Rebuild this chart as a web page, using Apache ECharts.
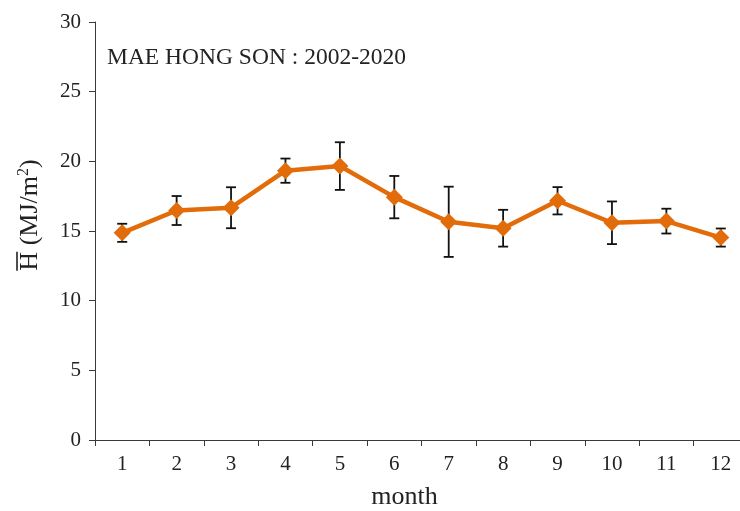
<!DOCTYPE html>
<html>
<head>
<meta charset="utf-8">
<script src="https://cdn.jsdelivr.net/npm/echarts@6/dist/echarts.min.js"></script>
<style>
  html, body { margin: 0; padding: 0; background: #fff; }
  #chart { width: 740px; height: 511px; }
</style>
</head>
<body>
<div id="chart"></div>
<script>
// Monthly mean daily global irradiation, Mae Hong Son (2002-2020)
const months = ['1', '2', '3', '4', '5', '6', '7', '8', '9', '10', '11', '12'];
const meanH = [14.87, 16.47, 16.67, 19.33, 19.66, 17.43, 15.66, 15.20, 17.17, 15.59, 15.71, 14.53];
const stdH = [0.65, 1.04, 1.47, 0.87, 1.71, 1.52, 2.52, 1.32, 0.98, 1.53, 0.89, 0.65];
const yTicks = [0, 5, 10, 15, 20, 25, 30];

const FONT_NAME = '"Liberation Serif", "Times New Roman", serif';
const TEXT_COLOR = '#222';
const AXIS_COLOR = '#3a3a3a';
const LINE_COLOR = '#E36C0A';

const errData = months.map((m, i) => [i, meanH[i] - stdH[i], meanH[i] + stdH[i]]);

// Text measurement for placing the overline above "H" in the axis title
const ctx = document.createElement('canvas').getContext('2d');
function measure(str, size) {
  ctx.font = size + 'px ' + FONT_NAME;
  return ctx.measureText(str).width;
}
const NAME_SIZE = 26;
const SUP_SIZE = 16;
const nameWidth = measure('H (MJ/m', NAME_SIZE) + measure('2', SUP_SIZE) + measure(')', NAME_SIZE);
const hWidth = measure('H', NAME_SIZE);

const chart = echarts.init(document.getElementById('chart'));
chart.setOption({
  animation: false,
  backgroundColor: '#fff',
  grid: { left: 95, top: 22, width: 653, bottom: 71, containLabel: false, outerBoundsMode: 'none' },
  title: {
    text: 'MAE HONG SON : 2002-2020',
    left: 107, top: 46, padding: 0,
    textStyle: { fontFamily: FONT_NAME, fontSize: 23.5, fontWeight: 'normal', color: TEXT_COLOR }
  },
  graphic: [{
    type: 'group',
    x: 30, y: 215,
    rotation: Math.PI / 2,
    children: [
      {
        type: 'text',
        x: 0, y: 0,
        style: {
          text: '{h|H} (MJ/m{sup|2})',
          align: 'center',
          verticalAlign: 'middle',
          font: NAME_SIZE + 'px ' + FONT_NAME,
          fill: TEXT_COLOR,
          rich: {
            h: { fontFamily: FONT_NAME, fontSize: NAME_SIZE, color: TEXT_COLOR },
            sup: { fontFamily: FONT_NAME, fontSize: SUP_SIZE, color: TEXT_COLOR, verticalAlign: 'top', padding: [0, 0, 12, 0] }
          }
        }
      },
      {
        type: 'line',
        shape: { x1: -nameWidth / 2, y1: -13, x2: -nameWidth / 2 + hWidth, y2: -13 },
        style: { stroke: TEXT_COLOR, lineWidth: 1.6 }
      }
    ]
  }],
  xAxis: {
    type: 'category',
    data: months,
    boundaryGap: true,
    name: 'month',
    nameLocation: 'middle',
    nameGap: 44,
    nameTextStyle: { fontFamily: FONT_NAME, fontSize: 26, color: TEXT_COLOR, padding: [0, 34, 0, 0] },
    axisLine: { lineStyle: { color: AXIS_COLOR, width: 1 } },
    axisTick: { show: true, alignWithLabel: false, length: 6, lineStyle: { color: AXIS_COLOR } },
    axisLabel: { fontFamily: FONT_NAME, fontSize: 21, color: TEXT_COLOR, margin: 14 },
    splitLine: { show: false }
  },
  yAxis: {
    type: 'value',
    min: yTicks[0],
    max: yTicks[yTicks.length - 1],
    interval: yTicks[1] - yTicks[0],
    axisLine: { show: true, lineStyle: { color: AXIS_COLOR, width: 1 } },
    axisTick: { show: true, length: 6, lineStyle: { color: AXIS_COLOR } },
    axisLabel: { fontFamily: FONT_NAME, fontSize: 21, color: TEXT_COLOR, margin: 14 },
    splitLine: { show: false }
  },
  series: [
    {
      type: 'custom',
      data: errData,
      z: 2,
      renderItem: function (params, api) {
        const x = api.value(0);
        const lo = api.coord([x, api.value(1)]);
        const hi = api.coord([x, api.value(2)]);
        const cap = 5;
        const style = { stroke: '#111', lineWidth: 1.8 };
        return {
          type: 'group',
          children: [
            { type: 'line', shape: { x1: lo[0], y1: lo[1], x2: hi[0], y2: hi[1] }, style },
            { type: 'line', shape: { x1: hi[0] - cap, y1: hi[1], x2: hi[0] + cap, y2: hi[1] }, style },
            { type: 'line', shape: { x1: lo[0] - cap, y1: lo[1], x2: lo[0] + cap, y2: lo[1] }, style }
          ]
        };
      }
    },
    {
      type: 'line',
      data: meanH,
      symbol: 'diamond',
      symbolSize: 17,
      lineStyle: { color: LINE_COLOR, width: 4.5 },
      itemStyle: { color: LINE_COLOR },
      z: 3
    }
  ]
});
</script>
</body>
</html>
